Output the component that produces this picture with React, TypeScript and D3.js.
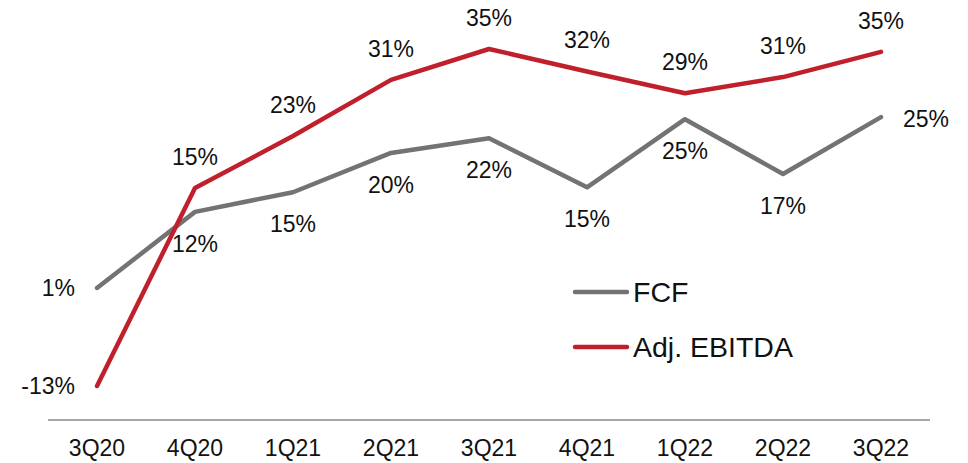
import React from "react";
import * as d3 from "d3";

const categories = ["3Q20", "4Q20", "1Q21", "2Q21", "3Q21", "4Q21", "1Q22", "2Q22", "3Q22"];
const fcf = [0.96, 11.8, 14.6, 20.2, 22.3, 15.3, 25.0, 17.2, 25.3];
const ebitda = [-13, 15.2, 22.6, 30.6, 35.0, 31.8, 28.7, 31.0, 34.6];
const seriesNames = ["FCF", "Adj. EBITDA"];

const W = 968;
const H = 463;
const FONT = "Liberation Sans, Arial, sans-serif";
const GREY = "#737373";
const RED = "#c0202c";

export default function App() {
  const x = d3.scalePoint<string>().domain(categories).range([48, 930]).padding(0.5);
  const y = d3.scaleLinear().domain([-13, 35]).range([386, 49]);
  const line = d3
    .line<number>()
    .x((_, i) => x(categories[i]) as number)
    .y((d) => y(d));
  const fmt = (v: number) => `${Math.round(v)}%`;
  const n = categories.length;

  return (
    <svg width={W} height={H} style={{ position: "absolute", left: 0, top: 0 }} fontFamily={FONT}>
      <rect width={W} height={H} fill="#fff" />
      <line x1={48} x2={930} y1={420} y2={420} stroke="#a6a6a6" strokeWidth={2} />
      {categories.map((c) => (
        <text key={c} x={x(c)} y={448} textAnchor="middle" dominantBaseline="central" fontSize={23} fill="#111">
          {c}
        </text>
      ))}
      <path d={line(fcf) || ""} fill="none" stroke={GREY} strokeWidth={4.5} strokeLinecap="round" strokeLinejoin="round" />
      <path d={line(ebitda) || ""} fill="none" stroke={RED} strokeWidth={4.5} strokeLinecap="round" strokeLinejoin="round" />
      {fcf.map((v, i) => {
        const px = x(categories[i]) as number;
        const py = y(v);
        let tx = px, ty = py + 32, anchor = "middle";
        if (i === 0) { tx = px - 22; ty = py; anchor = "end"; }
        if (i === n - 1) { tx = px + 22; ty = py + 2; anchor = "start"; }
        return (
          <text key={"f" + i} x={tx} y={ty} textAnchor={anchor} dominantBaseline="central" fontSize={23} fill="#111">
            {fmt(v)}
          </text>
        );
      })}
      {ebitda.map((v, i) => {
        const px = x(categories[i]) as number;
        const py = y(v);
        let tx = px, ty = py - 31, anchor = "middle";
        if (i === 0) { tx = px - 22; ty = py; anchor = "end"; }
        return (
          <text key={"e" + i} x={tx} y={ty} textAnchor={anchor} dominantBaseline="central" fontSize={23} fill="#111">
            {fmt(v)}
          </text>
        );
      })}
      {seriesNames.map((s, i) => (
        <g key={s} transform={`translate(0, ${292 + i * 55})`}>
          <line x1={575} x2={627} y1={0} y2={0} stroke={i === 0 ? GREY : RED} strokeWidth={4.5} strokeLinecap="round" />
          <text x={633} y={0} dominantBaseline="central" fontSize={28.5} fill="#111">
            {s}
          </text>
        </g>
      ))}
    </svg>
  );
}
